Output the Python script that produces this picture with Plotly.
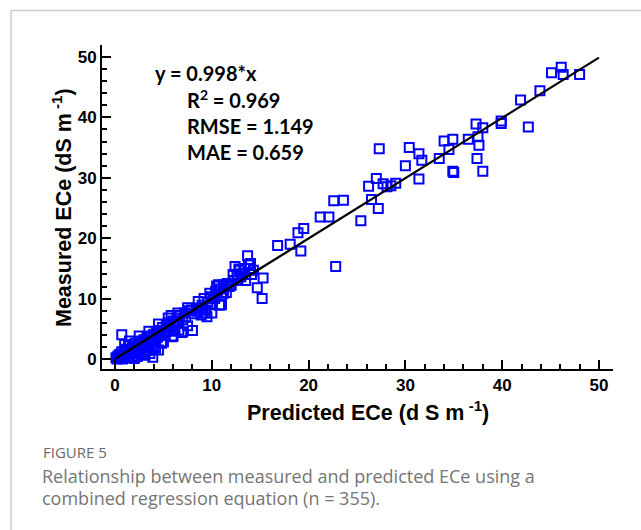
import plotly.graph_objects as go

# Predicted vs measured ECe (dS m-1)
predicted = [
    0.1, 0.2, 0.3, 0.4, 0.5, 0.6, 0.7, 0.7, 0.8, 0.9, 1.0, 1.1, 1.2, 1.3, 1.4, 1.5, 1.6, 1.7, 1.8, 1.9,
    2.0, 2.1, 2.2, 2.3, 2.4, 2.5, 2.6, 2.7, 2.8, 2.9, 3.0, 3.1, 3.2, 3.3, 3.4, 3.5, 3.6, 3.7, 3.8, 3.9,
    4.0, 4.1, 4.2, 4.3, 4.4, 4.5, 4.6, 4.7, 4.8, 4.9, 5.0, 5.2, 5.3, 5.5, 5.6, 5.7, 5.9, 6.0, 6.1, 6.2,
    6.4, 6.4, 6.6, 6.7, 6.9, 7.0, 7.2, 7.3, 7.5, 7.7, 7.9, 8.0, 8.2, 8.4, 8.5, 8.8, 9.0, 9.3, 9.5, 9.6,
    9.8, 10.0, 10.0, 10.3, 10.5, 10.7, 10.8, 11.0, 11.0, 11.2, 11.2, 11.5, 11.6, 12.0, 12.3, 12.4, 12.6, 12.7, 12.9, 13.0,
    13.2, 13.4, 13.7, 13.8, 13.9, 14.1, 14.3, 14.7, 15.2, 15.3, 16.8, 18.1, 18.9, 19.2, 19.5, 21.2, 22.1, 22.6, 22.8, 23.6,
    25.4, 26.2, 26.5, 27.0, 27.2, 27.3, 27.7, 28.1, 28.5, 29.0, 30.0, 30.4, 31.4, 31.4, 31.7, 33.5, 34.0, 34.5, 34.9, 34.9,
    35.0, 36.5, 37.3, 37.4, 37.5, 37.6, 38.0, 38.0, 39.9, 39.9, 41.9, 42.7, 43.9, 45.1, 46.1, 46.3, 48.0,
    1.5, 2.5, 3.5, 4.5, 5.5, 6.5, 7.5, 2.0, 3.0, 4.0, 5.0, 6.0, 7.0, 1.0, 2.6, 4.2, 5.8,
    8.6, 9.2, 9.9, 10.4, 11.8, 12.2, 13.5, 14.0, 8.9, 9.4, 10.9, 12.8,
]
measured = [
    0.2, 0.0, 0.5, 0.1, 0.8, 0.3, 1.2, 4.0, 0.0, 0.6, 1.0, 0.3, 1.6, 0.8, 2.2, 0.2, 1.4, 0.9, 2.0, 0.5,
    1.8, 2.6, 1.2, 0.4, 2.3, 1.6, 3.0, 0.8, 2.7, 1.9, 3.2, 0.6, 2.5, 3.6, 1.4, 3.0, 0.9, 3.8, 2.2, 0.3,
    4.1, 3.2, 1.8, 4.4, 3.6, 1.5, 4.7, 4.0, 2.6, 5.2, 4.5, 3.9, 5.6, 4.8, 6.0, 5.3, 3.7, 6.3, 5.6, 4.6,
    6.8, 5.9, 4.8, 7.2, 4.4, 6.5, 7.6, 6.9, 5.5, 8.0, 8.1, 4.7, 7.5, 8.4, 7.9, 8.4, 8.9, 7.6, 7.0, 9.4,
    10.9, 9.0, 7.6, 10.0, 12.1, 12.3, 8.9, 9.0, 10.5, 10.9, 12.3, 11.0, 12.5, 12.2, 13.0, 15.3, 13.9, 13.1, 14.7, 13.6,
    14.2, 15.0, 17.1, 15.6, 15.0, 14.0, 14.7, 11.8, 10.0, 13.4, 18.8, 19.0, 20.9, 17.9, 21.6, 23.5, 23.5, 26.2, 15.3, 26.3,
    22.9, 28.6, 26.4, 29.9, 24.9, 34.8, 29.0, 28.5, 28.7, 29.1, 32.0, 35.0, 34.0, 29.8, 32.9, 33.2, 36.1, 34.7, 36.4, 31.1,
    30.9, 36.4, 38.9, 33.2, 36.8, 35.4, 38.3, 31.1, 39.4, 39.0, 42.9, 38.4, 44.4, 47.4, 48.3, 47.1, 47.1,
    3.0, 3.8, 4.6, 5.8, 6.8, 7.6, 8.5, 0.1, 1.0, 2.0, 2.8, 3.8, 4.5, 2.4, 1.1, 2.9, 7.2,
    9.5, 10.0, 10.3, 11.2, 12.0, 14.0, 13.0, 15.8, 7.3, 8.1, 11.6, 14.9,
]

# Regression line y = 0.998 * x
fit_x = [0, 50]
fit_y = [0, 49.9]

stats_lines = ["R<sup>2</sup> = 0.969", "RMSE = 1.149", "MAE = 0.659"]
equation = "y = 0.998*x"
x_ticks = [0, 10, 20, 30, 40, 50]
y_ticks = [0, 10, 20, 30, 40, 50]

fig = go.Figure()
fig.add_trace(go.Scatter(
    x=predicted, y=measured, mode="markers",
    marker=dict(symbol="square-open", size=9, color="#0000ff",
                line=dict(width=2, color="#0000ff")),
    showlegend=False, cliponaxis=False,
))
fig.add_trace(go.Scatter(
    x=fit_x, y=fit_y, mode="lines",
    line=dict(color="black", width=2.3), showlegend=False,
))

axis_common = dict(
    showline=True, linecolor="black", linewidth=2,
    ticks="inside", ticklen=9, tickwidth=2, tickcolor="black",
    showgrid=False, zeroline=False,
    tickfont=dict(family="Liberation Sans, Arial", size=17, color="black", weight="bold"),
    minor=dict(ticks="inside", ticklen=5, tickwidth=2, tickcolor="black", dtick=2, showgrid=False),
)
fig.update_xaxes(range=[-1.343, 51.45], tickvals=x_ticks, **axis_common)
fig.update_yaxes(range=[-1.656, 51.99], tickvals=y_ticks, **axis_common)

W, H = 641, 530
L, R, T, B = 102, 28, 45, 161
pw, ph = W - L - R, H - T - B

def px(x):
    return (x - L) / pw

def py(y):
    return (H - B - y) / ph

annotations = []
annotations.append(dict(x=px(368), y=py(411), xref="paper", yref="paper",
                        text="Predicted ECe (d S m<sup> -1</sup>)", showarrow=False,
                        font=dict(family="Liberation Sans, Arial", size=21.5, color="black", weight="bold"),
                        xanchor="center", yanchor="middle"))
annotations.append(dict(x=px(62), y=py(208), xref="paper", yref="paper",
                        text="Measured ECe (dS m<sup> -1</sup>)", showarrow=False, textangle=-90,
                        font=dict(family="Liberation Sans, Arial", size=21.5, color="black", weight="bold"),
                        xanchor="center", yanchor="middle"))
annotations.append(dict(x=px(153), y=py(73), xref="paper", yref="paper", text=equation,
                        showarrow=False, xanchor="left", yanchor="middle",
                        font=dict(family="Lato", size=20, color="black", weight="bold")))
for i, t in enumerate(stats_lines):
    annotations.append(dict(x=px(185), y=py(99 + 26.5 * i), xref="paper", yref="paper", text=t,
                            showarrow=False, xanchor="left", yanchor="middle",
                            font=dict(family="Lato", size=20, color="black", weight="bold")))
annotations.append(dict(x=px(41), y=py(452), xref="paper", yref="paper", text="FIGURE 5",
                        showarrow=False, xanchor="left", yanchor="middle",
                        font=dict(family="Open Sans", size=15, color="#6b6b6b")))
caption = ["Relationship between measured and predicted ECe using a",
           "combined regression equation (n = 355)."]
for i, t in enumerate(caption):
    annotations.append(dict(x=px(40), y=py(476 + 22 * i), xref="paper", yref="paper", text=t,
                            showarrow=False, xanchor="left", yanchor="middle",
                            font=dict(family="Open Sans", size=18, color="#757575")))

shapes = [
    dict(type="line", xref="paper", yref="paper", x0=px(11), x1=px(641), y0=py(10.5), y1=py(10.5),
         line=dict(color="#cccccc", width=1.5)),
    dict(type="line", xref="paper", yref="paper", x0=px(11), x1=px(11), y0=py(10.5), y1=py(530),
         line=dict(color="#cccccc", width=1.5)),
]

fig.update_layout(
    width=W, height=H, margin=dict(l=L, r=R, t=T, b=B),
    paper_bgcolor="white", plot_bgcolor="white",
    annotations=annotations, shapes=shapes,
)
fig.write_html("out.html")
